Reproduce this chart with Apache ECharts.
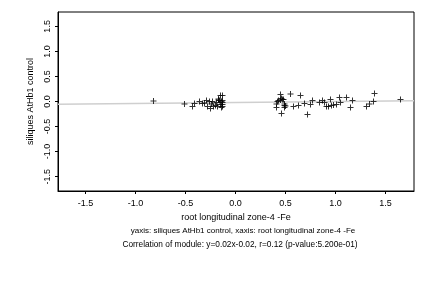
<!DOCTYPE html>
<html>
<head>
<meta charset="utf-8">
<script src="https://cdn.jsdelivr.net/npm/echarts@6/dist/echarts.min.js"></script>
<style>html,body{margin:0;padding:0;background:#fff;}#c{width:432px;height:288px;}</style>
</head>
<body>
<div id="c"></div>
<script>
// Data
const xValues = [-0.82,-0.51,-0.43,-0.41,-0.36,-0.33,-0.31,-0.29,-0.28,-0.26,-0.25,-0.24,-0.23,-0.22,-0.20,-0.19,-0.18,-0.17,-0.17,-0.16,-0.15,-0.15,-0.14,-0.14,-0.13,-0.13,-0.13,-0.13,-0.13,
  0.41,0.41,0.42,0.43,0.45,0.45,0.46,0.46,0.47,0.48,0.49,0.49,0.49,0.50,0.55,0.58,0.63,0.65,0.69,0.72,0.75,0.77,0.84,0.87,0.89,0.91,0.93,0.95,0.96,0.98,1.01,1.04,1.05,1.11,1.15,1.17,1.31,1.34,1.38,1.39,1.65];
const yValues = [0.01,-0.05,-0.10,-0.04,0.00,-0.04,-0.03,0.02,-0.10,0.00,-0.14,-0.05,0.00,-0.10,-0.08,-0.02,-0.10,0.03,0.05,0.02,0.12,-0.06,0.00,-0.12,0.12,-0.06,-0.10,0.02,-0.02,
  -0.05,-0.12,0.00,0.02,0.14,0.03,0.06,-0.24,0.04,0.04,-0.08,-0.12,-0.05,-0.09,0.15,-0.10,-0.08,0.12,-0.04,-0.26,-0.06,0.02,-0.02,0.02,-0.02,-0.10,-0.10,0.04,-0.08,-0.07,-0.06,0.08,-0.02,0.08,-0.12,0.02,-0.10,-0.05,0.00,0.16,0.04];
const xTicks = [-1.5,-1.0,-0.5,0.0,0.5,1.0,1.5];
const yTicks = [-1.5,-1.0,-0.5,0.0,0.5,1.0,1.5];
const fitSlope = [0.02];
const fitIntercept = [-0.02];
const xRange = [-1.775, 1.785];
const yRange = [-1.787, 1.787];
const xTitle = "root longitudinal zone-4 -Fe";
const yTitle = "siliques AtHb1 control";
const subLines = ["yaxis: siliques AtHb1 control, xaxis: root longitudinal zone-4 -Fe",
  "Correlation of module: y=0.02x-0.02, r=0.12 (p-value:5.200e-01)"];

const pts = xValues.map((x,i)=>[x,yValues[i]]);
const fit = xRange.map(x=>[x, fitSlope[0]*x + fitIntercept[0]]);
const font = "'Liberation Sans', Arial, sans-serif";
const fmt = v => v.toFixed(1);

const chart = echarts.init(document.getElementById('c'), null, {renderer:'canvas'});
chart.setOption({
  animation:false,
  backgroundColor:'#fff',
  grid:{left:58, right:18, top:12, bottom:97, show:true, borderColor:'#000', borderWidth:1, backgroundColor:'transparent', containLabel:false},
  xAxis:{type:'value', min:xRange[0], max:xRange[1],
    name:xTitle, nameLocation:'middle', nameGap:12,
    nameTextStyle:{fontFamily:font, fontSize:9, color:'#000'},
    axisLine:{show:true, onZero:false, lineStyle:{color:'#000', width:1}},
    axisTick:{show:true, inside:false, length:3, customValues:xTicks, lineStyle:{color:'#000'}},
    axisLabel:{customValues:xTicks, formatter:fmt, margin:8, fontFamily:font, fontSize:9, color:'#000'},
    splitLine:{show:false}},
  yAxis:{type:'value', min:yRange[0], max:yRange[1],
    name:yTitle, nameLocation:'middle', nameGap:14, nameRotate:90,
    nameTextStyle:{fontFamily:font, fontSize:9, color:'#000'},
    axisLine:{show:true, onZero:false, lineStyle:{color:'#000', width:1}},
    axisTick:{show:true, inside:false, length:3, customValues:yTicks, lineStyle:{color:'#000'}},
    axisLabel:{customValues:yTicks, formatter:fmt, rotate:90, margin:6, fontFamily:font, fontSize:9, color:'#000'},
    splitLine:{show:false}},
  graphic:[
    {type:'text', x:243, y:231, style:{text:subLines[0], align:'center', verticalAlign:'middle', fontFamily:font, fontSize:8, fill:'#000'}},
    {type:'text', x:240, y:245, style:{text:subLines[1], align:'center', verticalAlign:'middle', fontFamily:font, fontSize:8.3, fill:'#000'}}
  ],
  series:[
    {type:'line', data:fit, symbol:'none', silent:true, lineStyle:{color:'#cfcfcf', width:1.5}, z:1},
    {type:'scatter', data:pts, symbol:'path://M0,2.5h6v1h-6z M2.5,0h1v6h-1z', symbolSize:6, itemStyle:{color:'#000'}, z:2}
  ]
});
</script>
</body>
</html>
